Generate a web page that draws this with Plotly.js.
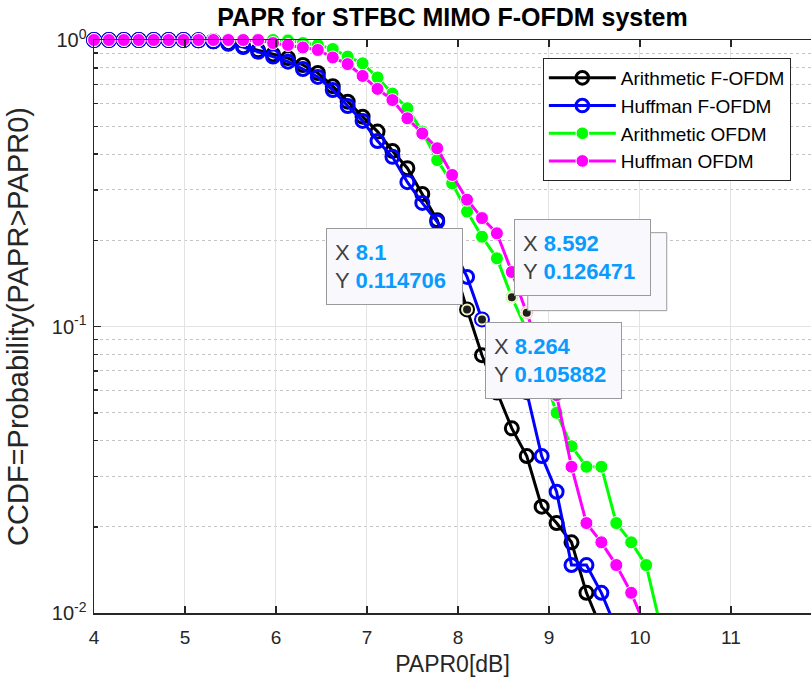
<!DOCTYPE html>
<html>
<head>
<meta charset="utf-8">
<script src="https://cdn.plot.ly/plotly-3.0.1.min.js"></script>
<style>html,body{margin:0;padding:0;background:#fff;}#chart{width:811px;height:682px;}</style>
</head>
<body>
<div id="chart"></div>
<script>
// PAPR0 grid (dB)
var papr0 = [4, 4.164, 4.328, 4.492, 4.656, 4.82, 4.984, 5.148, 5.312, 5.476,
  5.64, 5.804, 5.968, 6.132, 6.296, 6.46, 6.624, 6.788, 6.952, 7.116,
  7.28, 7.444, 7.608, 7.772, 7.936, 8.1, 8.264, 8.428, 8.592, 8.756,
  8.92, 9.084, 9.248, 9.412, 9.576, 9.74, 9.904, 10.068, 10.232];

var arithFOFDM = [1, 1, 1, 1, 1, 1, 1, 0.997, 0.99, 0.975,
  0.95, 0.92, 0.89, 0.865, 0.818, 0.767, 0.69, 0.609, 0.54, 0.479,
  0.41, 0.357, 0.29, 0.235, 0.17, 0.114706, 0.0794, 0.0588, 0.0441, 0.0353,
  0.0235, 0.0206, 0.01765, 0.01176, 0.00882];

var huffFOFDM = [1, 1, 1, 1, 1, 1, 1, 0.997, 0.99, 0.97,
  0.945, 0.91, 0.876, 0.84, 0.792, 0.743, 0.669, 0.588, 0.522, 0.444,
  0.391, 0.319, 0.27, 0.232, 0.19, 0.149, 0.105882, 0.094, 0.076, 0.059,
  0.0353, 0.0265, 0.0147, 0.0147, 0.01176, 0.00882];

var arithOFDM = [1, 1, 1, 1, 1, 1, 1, 1, 1, 1,
  1, 1, 1, 0.997, 0.976, 0.961, 0.93, 0.875, 0.829, 0.74,
  0.65, 0.578, 0.479, 0.381, 0.316, 0.252, 0.2058, 0.173, 0.126471, 0.097,
  0.071, 0.05, 0.0382, 0.0324, 0.0324, 0.0206, 0.01765, 0.0147, 0.00882];

var huffOFDM = [1, 1, 1, 1, 1, 1, 1, 1, 1, 1,
  1, 1, 0.976, 0.961, 0.942, 0.923, 0.869, 0.824, 0.749, 0.675,
  0.617, 0.533, 0.472, 0.419, 0.338, 0.277, 0.239, 0.2115, 0.155, 0.111765,
  0.0794, 0.0576, 0.0324, 0.0206, 0.01765, 0.0147, 0.01176, 0.00882];

var seriesNames = ['Arithmetic F-OFDM', 'Huffman F-OFDM', 'Arithmetic OFDM', 'Huffman OFDM'];

// data tips (first one lies hidden behind the second)
var tipX = [8.756, 8.592, 8.1, 8.264];
var tipY = [0.111765, 0.126471, 0.114706, 0.105882];

var xTickVals = [4, 5, 6, 7, 8, 9, 10, 11];
var yTickVals = [0.01, 0.1, 1];
var yTickText = ['10<sup>-2</sup>', '10<sup>-1</sup>', '10<sup>0</sup>'];
var yMinorVals = [0.02, 0.03, 0.04, 0.05, 0.06, 0.07, 0.08, 0.09, 0.2, 0.3, 0.4, 0.5, 0.6, 0.7, 0.8, 0.9];

var FONT = 'Liberation Sans, Arial, Helvetica, sans-serif';
var Y_MIN = 0.01;

function lineTrace(y, name, color, openMarker) {
  // markers outside the axes are hidden (as MATLAB clips them), markers on the top edge stay whole
  var sizes = y.map(function (v) { return v < Y_MIN ? 0 : 13; });
  return {
    x: papr0.slice(0, y.length), y: y, name: name, type: 'scatter', mode: 'lines+markers',
    cliponaxis: false,
    line: {color: color, width: 3},
    marker: openMarker ? {symbol: 'circle-open', size: sizes, opacity: 1, color: color, line: {width: 3, color: color}}
                       : {symbol: 'circle', size: sizes, opacity: 1, color: color}
  };
}

var traces = [
  lineTrace(arithFOFDM, seriesNames[0], '#000000', true),
  lineTrace(huffFOFDM, seriesNames[1], '#0000ff', true),
  lineTrace(arithOFDM, seriesNames[2], '#00ff00', false),
  lineTrace(huffOFDM, seriesNames[3], '#ff00ff', false),
  {x: tipX, y: tipY, type: 'scatter', mode: 'markers', showlegend: false, hoverinfo: 'skip',
   marker: {size: 10, color: '#1e1e1e', line: {width: 2, color: '#f4f4c8'}}}
];

// datatip boxes: pixel offsets from the tip point [xshift, yshift, xanchor, yanchor]
var tipPlace = [[1, 2, 'left', 'bottom'], [2, 1, 'left', 'bottom'], [-4, 4, 'right', 'bottom'], [3, -3, 'left', 'top']];
var shapes = [{
  type: 'rect', xref: 'x', yref: 'y', xsizemode: 'pixel', ysizemode: 'pixel',
  xanchor: tipX[0], yanchor: tipY[0], x0: 1, x1: 140, y0: 2, y1: 80,
  fillcolor: '#f9f9fd', line: {color: '#9a9a9a', width: 1}, layer: 'above'
}];
var annotations = [];
for (var i = 1; i < tipX.length; i++) {
  annotations.push({
    xref: 'x', yref: 'y', x: tipX[i], y: Math.log10(tipY[i]), showarrow: false,
    xanchor: tipPlace[i][2], yanchor: tipPlace[i][3], xshift: tipPlace[i][0], yshift: tipPlace[i][1],
    width: 119, height: 59, align: 'left', valign: 'middle', borderpad: 8,
    bgcolor: '#f9f9fd', bordercolor: '#9a9a9a', borderwidth: 1,
    font: {family: FONT, size: 22, color: '#404040'},
    text: 'X <b><span style="color:#0a9bff">' + tipX[i] + '</span></b><br>Y <b><span style="color:#0a9bff">' + tipY[i] + '</span></b>'
  });
}

var layout = {
  width: 811, height: 682,
  margin: {l: 94, r: 0, t: 40, b: 69},
  paper_bgcolor: '#ffffff', plot_bgcolor: '#ffffff',
  font: {family: FONT, size: 19, color: '#262626'},
  title: {text: '<b>PAPR for STFBC MIMO F-OFDM system</b>', font: {family: FONT, size: 25, color: '#000000'},
          x: 0.5, xref: 'paper', xanchor: 'center', y: 0.974, yanchor: 'middle'},
  xaxis: {
    type: 'linear', range: [4, 11.88], tickvals: xTickVals, ticks: 'inside', ticklen: 7, tickwidth: 1.5,
    tickcolor: '#262626', showline: true, linecolor: '#262626', linewidth: 1.5, mirror: 'ticks',
    showgrid: true, gridcolor: '#e3e3e3', gridwidth: 1, zeroline: false, ticklabelstandoff: 7,
    tickfont: {family: FONT, size: 19, color: '#262626'},
    title: {text: 'PAPR0[dB]', font: {family: FONT, size: 23, color: '#262626'}, standoff: 8}
  },
  yaxis: {
    type: 'log', range: [-2, 0], tickvals: yTickVals, ticktext: yTickText, ticks: 'inside', ticklen: 7, tickwidth: 1.5,
    tickcolor: '#262626', showline: true, linecolor: '#262626', linewidth: 1.5, mirror: false,
    showgrid: true, gridcolor: '#e3e3e3', gridwidth: 1, zeroline: false, ticklabelstandoff: 2,
    tickfont: {family: FONT, size: 20, color: '#262626'},
    minor: {tickvals: yMinorVals, ticks: 'inside', ticklen: 4, tickcolor: '#262626', showgrid: true,
            gridcolor: '#c4c4c4', griddash: 'dot', gridwidth: 1},
    title: {text: 'CCDF=Probability(PAPR>PAPR0)', font: {family: FONT, size: 29, color: '#262626'}, standoff: 14}
  },
  legend: {
    x: 0.626, y: 0.9686, xanchor: 'left', yanchor: 'top', bgcolor: '#ffffff', bordercolor: '#262626', borderwidth: 1,
    font: {family: FONT, size: 19, color: '#000000'}, itemwidth: 67
  },
  shapes: shapes,
  annotations: annotations,
  showlegend: true
};

Plotly.newPlot('chart', traces, layout, {displayModeBar: false, staticPlot: true});
</script>
</body>
</html>
